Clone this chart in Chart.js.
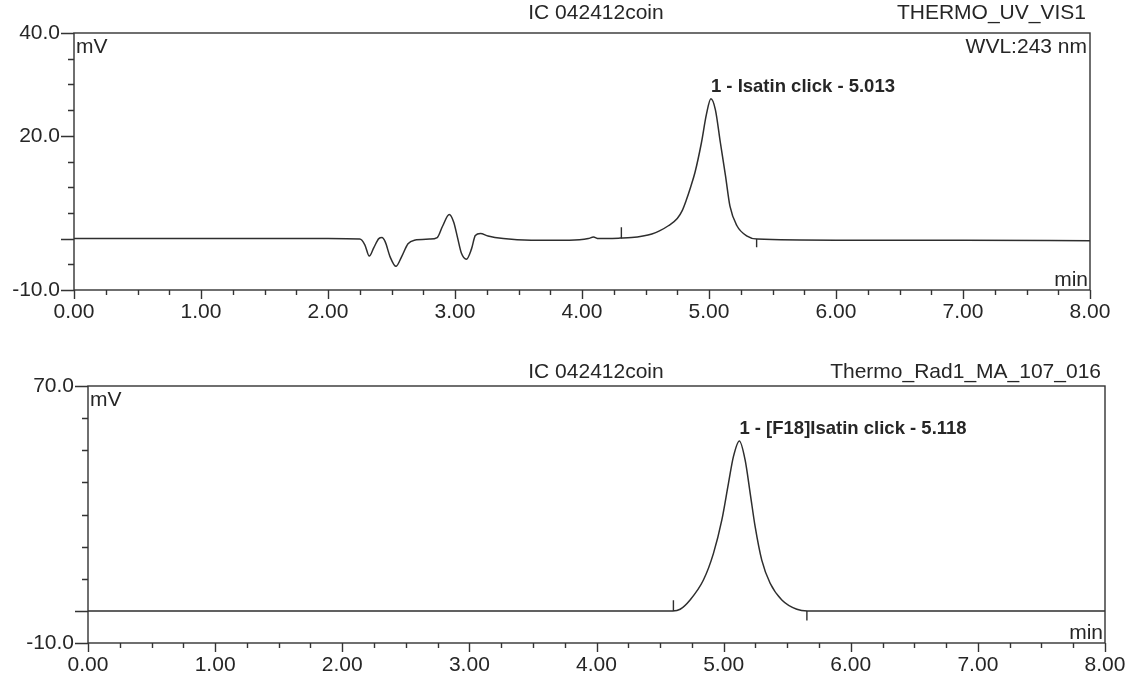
<!DOCTYPE html>
<html>
<head>
<meta charset="utf-8">
<title>IC 042412coin</title>
<script src="https://cdn.jsdelivr.net/npm/chart.js@4.4.1/dist/chart.umd.min.js"></script>
<style>
  body { margin: 0; background: #fff; }
  .panel { position: absolute; left: 0; width: 1130px; height: 338px; }
</style>
</head>
<body>
<div class="panel" style="top:0"><canvas id="uvChart" width="1130" height="338"></canvas></div>
<div class="panel" style="top:338px"><canvas id="radChart" width="1130" height="338"></canvas></div>

<script>
// --- data (time in min, signal in mV) ---
const uvTime = [0.00, 1.00, 2.00, 2.25, 2.29, 2.325, 2.36, 2.40, 2.425, 2.45, 2.49, 2.535, 2.58, 2.63, 2.68, 2.80,
                2.86, 2.90, 2.955, 2.99, 3.02, 3.05, 3.09, 3.13, 3.16, 3.20, 3.26, 3.38, 3.60, 3.90, 4.05, 4.09,
                4.13, 4.30, 4.39, 4.48, 4.55, 4.61, 4.68, 4.75, 4.79, 4.82, 4.855, 4.89, 4.94, 4.98, 5.015, 5.05,
                5.09, 5.13, 5.165, 5.22, 5.30, 5.38, 6.00, 7.00, 8.00];
const uvSignal = [0.0, 0.0, 0.0, -0.1, -1.2, -3.4, -1.8, 0.0, 0.2, -0.6, -3.6, -5.4, -3.5, -1.0, -0.3, -0.1,
                  0.2, 2.3, 4.7, 3.2, 0.2, -2.8, -4.0, -2.0, 0.6, 1.0, 0.5, 0.0, -0.3, -0.3, 0.0, 0.3,
                  0.0, 0.1, 0.2, 0.5, 0.9, 1.5, 2.5, 3.9, 5.5, 7.4, 10.0, 12.9, 18.6, 24.2, 27.2, 25.1,
                  18.6, 12.2, 6.3, 2.5, 0.5, -0.1, -0.3, -0.3, -0.4];
// peak start / end marks: [time, from, to]
const uvMarks = [[4.31, 0.0, 2.2], [5.375, -0.1, -1.7]];

const radTime = [0.00, 2.00, 4.00, 4.60, 4.658, 4.736, 4.841, 4.92, 4.986, 5.038, 5.077, 5.124, 5.169, 5.209,
                 5.248, 5.30, 5.366, 5.458, 5.576, 5.66, 6.00, 8.00];
const radSignal = [0.0, 0.0, 0.0, 0.0, 0.5, 3.4, 9.6, 17.9, 28.3, 39.7, 48.0, 52.9, 47.0, 36.6,
                   26.2, 15.8, 8.6, 3.4, 0.5, 0.0, 0.0, 0.0];
const radMarks = [[4.605, 0.0, 3.3], [5.655, 0.0, -3.0]];

const uvYLabels = [40, 20, -10];
const radYLabels = [70, -10];

const uvPeak = { text: '1 - Isatin click - 5.013', time: 5.015, height: 27.2 };
const radPeak = { text: '1 - [F18]Isatin click - 5.118', time: 5.124, height: 52.9 };

const FONT = '"Liberation Sans", Arial, sans-serif';
const INK = '#262626';

function toPoints(xs, ys) {
    return xs.map((t, i) => ({ x: t, y: ys[i] }));
}

function markPoints(marks) {
    const pts = [];
    marks.forEach(m => {
        pts.push({ x: m[0], y: m[1] }, { x: m[0], y: m[2] }, { x: m[0], y: null });
    });
    return pts;
}

// frame, tick marks and the printed texts of a chromatogram
const framePlugin = {
    id: 'frame',
    afterDraw(chart, args, opts) {
        const { ctx, chartArea: a, scales: { x, y } } = chart;
        ctx.save();
        ctx.strokeStyle = '#333';
        ctx.lineWidth = 1.4;
        ctx.strokeRect(a.left, a.top, a.right - a.left, a.bottom - a.top);

        ctx.beginPath();
        x.ticks.forEach(t => {
            const px = Math.round(x.getPixelForValue(t.value)) + 0.5;
            const len = t.label ? 9 : 5;
            ctx.moveTo(px, a.bottom);
            ctx.lineTo(px, a.bottom + len);
        });
        y.ticks.forEach(t => {
            const py = Math.round(y.getPixelForValue(t.value)) + 0.5;
            const len = (t.label || t.value === 0) ? 13 : 6;
            ctx.moveTo(a.left, py);
            ctx.lineTo(a.left - len, py);
        });
        ctx.stroke();

        ctx.fillStyle = INK;
        ctx.font = '21px ' + FONT;
        ctx.textBaseline = 'middle';
        ctx.textAlign = 'center';
        ctx.fillText(opts.title, 596, a.top - opts.titleGap);
        ctx.textAlign = 'right';
        ctx.fillText(opts.channel, a.right - 4, a.top - opts.titleGap);
        if (opts.note) ctx.fillText(opts.note, a.right - 3, a.top + 14);
        ctx.fillText('min', a.right - 2, a.bottom - 10);
        ctx.textAlign = 'left';
        ctx.fillText('mV', a.left + 2, a.top + 14);

        const p = opts.peak;
        ctx.font = 'bold 18.5px ' + FONT;
        ctx.textBaseline = 'bottom';
        ctx.fillText(p.text, x.getPixelForValue(p.time), y.getPixelForValue(p.height) - 3);
        ctx.restore();
    }
};

function makeChart(id, cfg) {
    new Chart(document.getElementById(id), {
        type: 'line',
        data: {
            datasets: [{
                data: toPoints(cfg.time, cfg.signal),
                borderColor: '#2e2e2e',
                borderWidth: 1.5,
                pointRadius: 0,
                cubicInterpolationMode: 'monotone',
                fill: false
            }, {
                data: markPoints(cfg.marks),
                borderColor: '#2e2e2e',
                borderWidth: 1.4,
                pointRadius: 0,
                tension: 0,
                spanGaps: false
            }]
        },
        options: {
            responsive: false,
            devicePixelRatio: 1,
            animation: false,
            layout: { padding: cfg.padding },
            plugins: {
                legend: { display: false },
                tooltip: { enabled: false },
                frame: {
                    title: 'IC 042412coin',
                    channel: cfg.channel,
                    note: cfg.note,
                    titleGap: cfg.titleGap,
                    peak: cfg.peak
                }
            },
            scales: {
                x: {
                    type: 'linear',
                    min: 0,
                    max: 8,
                    grid: { display: false, drawTicks: false },
                    border: { display: false },
                    afterFit: s => {
                        s.height = cfg.xHeight;
                        s.paddingLeft = 0;
                        s.paddingRight = 0;
                    },
                    ticks: {
                        stepSize: 0.25,
                        autoSkip: false,
                        maxRotation: 0,
                        padding: 10,
                        color: INK,
                        font: { family: FONT, size: 21 },
                        callback: v => Number.isInteger(v) ? v.toFixed(2) : ''
                    }
                },
                y: {
                    min: cfg.yMin,
                    max: cfg.yMax,
                    grid: { display: false, drawTicks: false },
                    border: { display: false },
                    afterFit: s => { s.width = cfg.yWidth; },
                    ticks: {
                        stepSize: cfg.yStep,
                        autoSkip: false,
                        padding: 14,
                        color: INK,
                        font: { family: FONT, size: 21 },
                        callback: v => cfg.yLabels.includes(v) ? v.toFixed(1) : ''
                    }
                }
            }
        },
        plugins: [framePlugin]
    });
}

makeChart('uvChart', {
    time: uvTime, signal: uvSignal, marks: uvMarks,
    yMin: -10, yMax: 40, yStep: 5, yLabels: uvYLabels,
    channel: 'THERMO_UV_VIS1', note: 'WVL:243 nm', titleGap: 20,
    peak: uvPeak,
    padding: { top: 33, right: 40, left: 0, bottom: 0 },
    yWidth: 74, xHeight: 48
});

makeChart('radChart', {
    time: radTime, signal: radSignal, marks: radMarks,
    yMin: -10, yMax: 70, yStep: 10, yLabels: radYLabels,
    channel: 'Thermo_Rad1_MA_107_016', note: '', titleGap: 14,
    peak: radPeak,
    padding: { top: 48, right: 25, left: 0, bottom: 0 },
    yWidth: 88, xHeight: 33
});
</script>
</body>
</html>
